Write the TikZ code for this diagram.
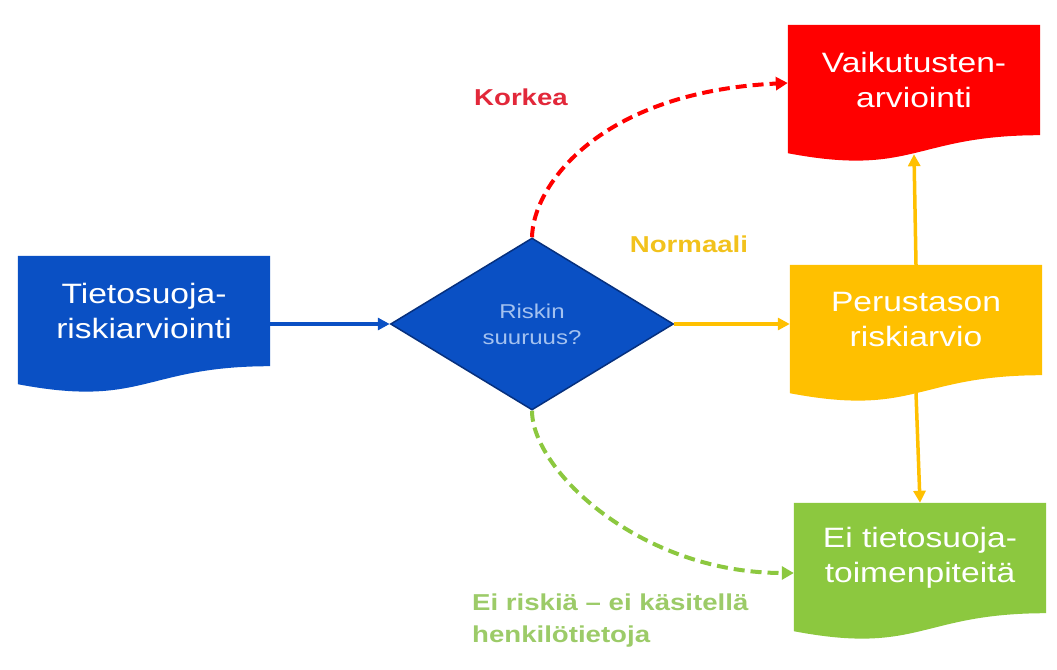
\documentclass[tikz,border=0pt]{standalone}
\usepackage{fontspec}
\setmainfont{Liberation Sans}[FakeStretch=1.2]
\usetikzlibrary{shapes.geometric,arrows.meta,backgrounds}
\definecolor{cblue}{HTML}{0A50C4}
\definecolor{cbluedark}{HTML}{06307E}
\definecolor{cbluetext}{HTML}{A4C2F0}
\definecolor{cred}{HTML}{FF0000}
\definecolor{credtext}{HTML}{E2283A}
\definecolor{cyel}{HTML}{FFC000}
\definecolor{cyeltext}{HTML}{F2C21C}
\definecolor{cgrn}{HTML}{8CC83F}
\definecolor{cgrntext}{HTML}{9CCB68}
\newcommand\docfill[2]{%
  \fill[#2] (#1.north west) -- (#1.north east) -- (#1.south east)
    .. controls (#1.south) and ([yshift=-42pt]#1.south) .. ([yshift=-18pt]#1.south west) -- cycle;}
\begin{document}
\begin{tikzpicture}[x=1pt,y=-1pt,
  docnode/.style={rectangle, minimum width=252pt, minimum height=110pt, inner sep=0pt,
    align=center, text=white, font=\fontsize{28}{35}\selectfont},
  lab/.style={font=\bfseries\fontsize{23}{32}\selectfont, inner sep=0pt},
  solidarrow/.style={line width=3.5pt, -{Triangle[length=12pt,width=12pt]}},
  dasharrow/.style={line width=4pt, dash pattern=on 11pt off 6pt, -{Triangle[length=12pt,width=13pt]}}]
\useasboundingbox (0,0) rectangle (1057,669);
% nodes
\node[docnode] (blue) at (144,311) {Tietosuoja-\\riskiarviointi};
\node[diamond, fill=cblue, draw=cbluedark, line width=1.5pt, minimum width=283pt, minimum height=172pt,
  inner sep=0pt, align=center, text=cbluetext, font=\fontsize{20}{26}\selectfont] (dia) at (532,324) {Riskin\\suuruus?};
\node[docnode] (red) at (914,80) {Vaikutusten-\\arviointi};
\node[docnode] (yel) at (916,320) {Perustason\\riskiarvio};
\node[docnode] (grn) at (920,558) {Ei tietosuoja-\\toimenpiteitä};
\begin{scope}[on background layer]
  \fill[white] (0,0) rectangle (1057,669);
  \docfill{blue}{cblue}
  \docfill{red}{cred}
  \docfill{yel}{cyel}
  \docfill{grn}{cgrn}
\end{scope}
% labels
\node[lab, text=credtext] (korkea) at (521,97) {Korkea};
\node[lab, text=cyeltext] (normaali) at (689,244) {Normaali};
\node[lab, text=cgrntext, anchor=west, align=left] (eiriskia) at (472,621) {Ei riskiä – ei käsitellä\\henkilötietoja};
% connector end points
\coordinate (redbot) at ([yshift=-19pt]red.south);
\coordinate (yelbot) at ([yshift=-18pt]yel.south);
\coordinate (grnin) at ([yshift=-15pt]grn.west);
\coordinate (redin) at ([yshift=-3pt]red.west);
% connectors
\draw[solidarrow, draw=cblue] (blue.east |- dia.west) -- (dia.west);
\draw[solidarrow, draw=cyel] (dia.east) -- (yel.west |- dia.east);
\draw[solidarrow, draw=cyel] (yel.north) -- (redbot);
\draw[solidarrow, draw=cyel] (yelbot) -- (grn.north);
\draw[dasharrow, draw=cred] (dia.north) .. controls (533,185) and (600,92) .. (redin);
\draw[dasharrow, draw=cgrn] (dia.south) .. controls (532,470) and (640,573) .. (grnin);
\end{tikzpicture}
\end{document}
